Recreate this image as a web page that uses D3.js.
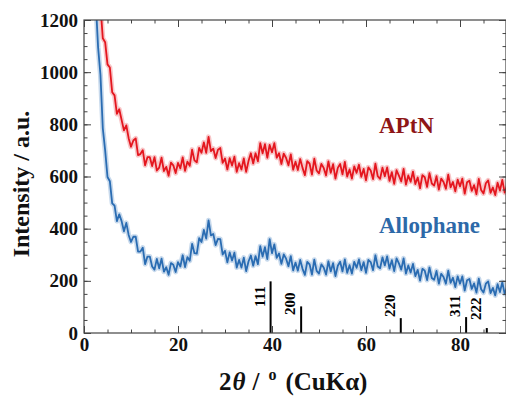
<!DOCTYPE html>
<html><head><meta charset="utf-8">
<script src="https://cdn.jsdelivr.net/npm/d3@7"></script>
<style>body{margin:0;background:#fff}svg{display:block}</style>
</head><body><svg id="c" width="506" height="397"></svg>
<script>
// ---- data ----
const angleStep = 0.5;
const redStart = 3.5;   // APtN, 2theta of first sample
const redValues = [
 1255,1130,1115,
 1030,1018,923,911,840,858,817,777,796,747,
 714,738,746,682,686,701,643,674,674,640,
 674,623,634,672,621,637,603,653,643,613,
 652,631,673,622,657,641,703,662,654,710,
 691,731,691,752,697,707,671,703,709,652,
 669,627,670,642,676,618,651,627,669,618,
 659,689,650,689,658,728,689,724,672,721,
 693,728,672,689,648,688,671,643,685,626,
 657,625,667,633,605,659,649,607,668,623,
 612,648,633,604,658,614,647,592,633,648,
 608,656,600,627,592,639,614,645,599,629,
 585,635,623,590,649,601,591,634,601,635,
 583,617,572,624,603,581,629,569,604,580,
 619,571,596,555,605,597,560,613,573,565,
 601,550,592,579,553,607,558,579,543,588,
 562,592,534,578,584,545,567,532,591,548,
 535,574,585,537,558,529,576,546,587,538,
 565
];
const blueStart = 2.5;  // Allophane
const blueValues = [
 1270,1095,990,785,700,
 598,582,497,488,429,455,429,390,422,376,
 349,369,369,312,312,327,264,293,293,255,
 243,284,248,285,235,252,223,268,262,234,
 272,255,298,253,291,277,342,306,304,364,
 349,395,362,432,374,380,337,361,360,301,
 315,271,309,278,308,251,280,251,289,237,
 274,297,258,295,264,333,293,329,283,360,
 306,340,288,305,265,301,285,256,295,240,
 270,239,280,246,223,273,263,224,281,238,
 228,263,251,224,275,236,268,218,258,273,
 236,282,231,260,228,273,250,282,241,272,
 231,280,272,241,298,255,248,290,259,294,
 247,279,237,286,267,243,286,228,259,232,
 265,218,242,201,246,239,203,251,211,204,
 238,189,227,215,189,239,192,212,176,217,
 189,217,163,202,207,169,190,155,208,168,
 155,189,198,153,173,144,187,157,195,150,
 174
];
const sampleNames = ["APtN", "Allophane"];
const refHkl = ["111", "200", "220", "311", "222"];
const refAngle = [39.7, 46.2, 67.4, 81.3, 85.7];
const refHeight = [198, 102, 57, 61, 19];
const xTicks = [0, 20, 40, 60, 80];
const yTicks = [0, 200, 400, 600, 800, 1000, 1200];

// ---- layout ----
const svg = d3.select("#c");
const L = 84, R = 507, T = 20, B = 333;
const x = d3.scaleLinear().domain([0, 90]).range([L, R]);
const y = d3.scaleLinear().domain([0, 1200]).range([B, T]);
const font = "'Liberation Serif','Times New Roman',serif";
const labelLift = [26, 18, 16, 16, 13];

svg.append("clipPath").attr("id", "clip")
  .append("rect").attr("x", L).attr("y", T).attr("width", R - L).attr("height", B - T);

function series(start, vals) {
  return vals.map((v, i) => [start + i * angleStep, v]);
}
const red = series(redStart, redValues);
const blue = series(blueStart, blueValues);
const line = d3.line().x(d => x(d[0])).y(d => y(d[1]));

const g = svg.append("g").attr("clip-path", "url(#clip)");
[[blue, "#b9cfe7", "#2a6cb2"], [red, "#f6b8ba", "#e4161e"]].forEach(([d, halo, main]) => {
  g.append("path").datum(d).attr("d", line).attr("fill", "none")
    .attr("stroke", halo).attr("stroke-width", 5).attr("stroke-opacity", 0.8)
    .attr("stroke-linejoin", "round");
  g.append("path").datum(d).attr("d", line).attr("fill", "none")
    .attr("stroke", main).attr("stroke-width", 1.8).attr("stroke-linejoin", "round");
});

// reference sticks
refAngle.forEach((a, i) => {
  svg.append("line").attr("x1", x(a)).attr("x2", x(a)).attr("y1", y(0)).attr("y2", y(refHeight[i]))
    .attr("stroke", "#000").attr("stroke-width", 2);
  svg.append("text").text(refHkl[i])
    .attr("transform", `translate(${x(a) - 6},${y(0) - labelLift[i]}) rotate(-90)`)
    .attr("font-family", font).attr("font-weight", "bold").attr("font-size", 15)
    .attr("fill", "#000");
});

// axes
function styleAxis(sel) {
  sel.select(".domain").remove();
  sel.selectAll("line").attr("stroke", "#444").attr("stroke-width", 1);
  sel.selectAll("text").attr("font-family", font).attr("font-weight", "bold")
    .attr("font-size", 19).attr("fill", "#111");
}
const xMinor = d3.range(0, 91, 5), yMinor = d3.range(0, 1201, 50);
svg.append("g").attr("transform", `translate(0,${B})`)
  .call(d3.axisBottom(x).tickValues(xMinor).tickSize(-3.5).tickFormat("")).call(styleAxis);
svg.append("g").attr("transform", `translate(0,${B})`)
  .call(d3.axisBottom(x).tickValues(xTicks).tickSize(-7).tickPadding(5).tickFormat(d3.format("d"))).call(styleAxis);
svg.append("g").attr("transform", `translate(0,${T})`)
  .call(d3.axisTop(x).tickValues(xMinor).tickSize(-3.5).tickFormat("")).call(styleAxis);
svg.append("g").attr("transform", `translate(0,${T})`)
  .call(d3.axisTop(x).tickValues(xTicks).tickSize(-7).tickFormat("")).call(styleAxis);
svg.append("g").attr("transform", `translate(${L},0)`)
  .call(d3.axisLeft(y).tickValues(yMinor).tickSize(-3.5).tickFormat("")).call(styleAxis);
svg.append("g").attr("transform", `translate(${L},0)`)
  .call(d3.axisLeft(y).tickValues(yTicks).tickSize(-7).tickPadding(6).tickFormat(d3.format("d"))).call(styleAxis);
svg.append("g").attr("transform", `translate(${R - 1},0)`)
  .call(d3.axisRight(y).tickValues(yMinor).tickSize(-3.5).tickFormat("")).call(styleAxis);
svg.append("g").attr("transform", `translate(${R - 1},0)`)
  .call(d3.axisRight(y).tickValues(yTicks).tickSize(-7).tickFormat("")).call(styleAxis);

svg.append("rect").attr("x", L).attr("y", T).attr("width", R - 1 - L).attr("height", B - T)
  .attr("fill", "none").attr("stroke", "#444").attr("stroke-width", 1.2);

// sample names
svg.append("text").text(sampleNames[0]).attr("x", 379).attr("y", 133)
  .attr("font-family", font).attr("font-weight", "bold").attr("font-size", 23).attr("fill", "#8e1616");
svg.append("text").text(sampleNames[1]).attr("x", 379).attr("y", 233)
  .attr("font-family", font).attr("font-weight", "bold").attr("font-size", 23).attr("fill", "#2d69a8");

// axis titles
svg.append("text").attr("transform", "translate(29,184) rotate(-90)")
  .attr("text-anchor", "middle").attr("font-family", font).attr("font-weight", "bold")
  .attr("font-size", 24).attr("fill", "#111").text("Intensity / a.u.");
const xt = svg.append("text").attr("x", 219).attr("y", 390)
  .attr("font-family", font).attr("font-weight", "bold").attr("font-size", 25).attr("fill", "#111");
xt.append("tspan").text("2");
xt.append("tspan").attr("font-style", "italic").attr("dx", 1).text("θ");
xt.append("tspan").attr("dx", 7).text("/");
xt.append("tspan").attr("font-size", 16).attr("dx", 9).attr("dy", -10).text("o");
xt.append("tspan").attr("dx", 9).attr("dy", 10).text("(CuKα)");
</script></body></html>
